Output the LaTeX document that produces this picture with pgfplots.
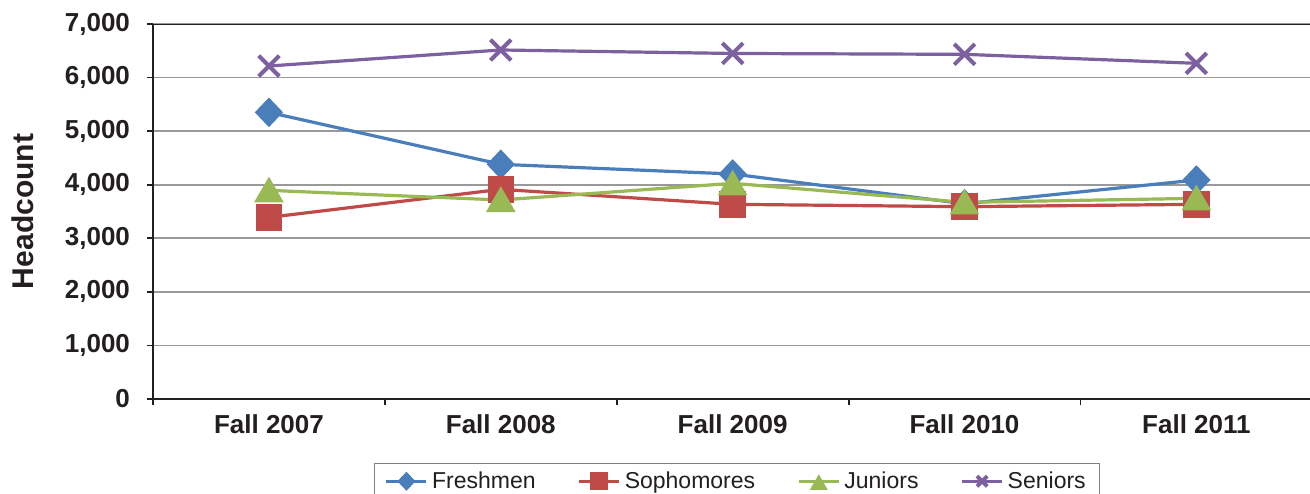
\documentclass[border=0pt]{standalone}
\usepackage{fontspec}
\setmainfont{Liberation Sans}
\usepackage{pgfplots}
\pgfplotsset{compat=1.18}
\definecolor{cFr}{HTML}{4A7EBB}
\definecolor{cSo}{HTML}{BE4B48}
\definecolor{cJu}{HTML}{98B954}
\definecolor{cSe}{HTML}{7D60A0}
\definecolor{txt}{HTML}{231F20}
\begin{document}
\begin{tikzpicture}
\useasboundingbox (-76.5pt,-47pt) rectangle (578.5pt,199.5pt);
\begin{axis}[
  at={(0pt,0pt)}, anchor=south west,
  scale only axis, width=578.5pt, height=187.5pt,
  xmin=-0.5, xmax=4.49, ymin=0, ymax=7000,
  axis x line*=bottom, axis y line*=left,
  axis line style={txt, line width=1.2pt},
  ytick={0,1000,...,7000},
  ymajorgrids, grid style={black!40, line width=0.9pt},
  xtick={-0.5,0.5,1.5,2.5,3.5}, xticklabels={},
  extra x ticks={0,1,2,3,4},
  extra x tick labels={Fall 2007,Fall 2008,Fall 2009,Fall 2010,Fall 2011},
  extra x tick style={major tick length=0pt,
    xticklabel style={yshift=-4.5pt}},
  tick align=outside, major tick length=3pt,
  tick style={txt, line width=0.9pt},
  ticklabel style={font=\fontsize{13}{15}\selectfont\bfseries, text=txt},
  /pgf/number format/assume math mode=true,
  yticklabel style={/pgf/number format/1000 sep={,}, xshift=-5pt},
  ylabel={Headcount},
  ylabel style={font=\fontsize{15}{17}\selectfont\bfseries, text=txt,
    at={(axis description cs:-0.1124,0.5)}, anchor=center},
  legend columns=4,
  legend style={at={(0.505,-0.1707)}, anchor=north, draw=black!50,
    font=\fontsize{11.5}{13}\selectfont, text=txt, inner xsep=5pt,
    /tikz/every even column/.append style={column sep=19pt}},
  legend image code/.code={%
    \draw[mark repeat=2,mark phase=2,#1,mark size=3.6pt]
      plot coordinates {(0pt,0pt) (10pt,0pt) (20pt,0pt)};},
]
\addplot[cFr, line width=1.6pt, mark=diamond*, mark size=6.25pt,
  mark options={solid, xscale=1.27}]
  coordinates {(0,5351) (1,4381) (2,4200) (3,3645) (4,4088)};
\addlegendentry{Freshmen}
\addplot[cSo, line width=1.6pt, mark=square*, mark size=5.8pt,
  mark options={solid, rounded corners=1.2pt}]
  coordinates {(0,3391) (1,3914) (2,3634) (3,3590) (4,3634)};
\addlegendentry{Sophomores}
\addplot[cJu, line width=1.6pt, mark=triangle*, mark size=7pt,
  mark options={solid, yshift=-1.75pt}]
  coordinates {(0,3895) (1,3715) (2,4026) (3,3671) (4,3746)};
\addlegendentry{Juniors}
\addplot[cSe, line width=1.6pt, mark=x, mark size=7.3pt,
  mark options={solid, line width=2pt}]
  coordinates {(0,6216) (1,6515) (2,6450) (3,6434) (4,6266)};
\addlegendentry{Seniors}
\draw[txt, line width=1.2pt] (rel axis cs:0,1) -- (rel axis cs:1,1);
\end{axis}
\end{tikzpicture}
\end{document}
